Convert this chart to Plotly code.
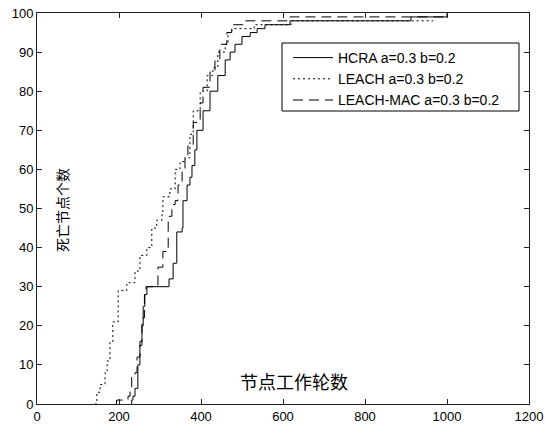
import plotly.graph_objects as go

# Rounds at which the number of dead nodes reaches each value (step curves)
hcra_x = [231, 231, 234, 239, 246, 251, 256, 259, 263, 268, 322, 332, 341, 354, 356, 366, 373, 378, 385,
          390, 405, 422, 441, 459, 471, 483, 500, 520, 537, 556, 617, 912, 1000, 1000]
hcra_y = [0, 1, 2, 4, 10, 15, 20, 25, 28, 30, 32, 36, 44, 45, 52, 56, 58, 61, 65,
          70, 75, 80, 84, 88, 90, 92, 94, 95, 96, 97, 98, 99, 99, 100]

leach_x = [141, 146, 154, 166, 171, 178, 185, 198, 219, 239, 251, 268, 280, 292, 305, 307, 324, 337, 349,
           361, 373, 381, 398, 415, 429, 441, 459, 466, 475, 500, 530, 620, 966]
leach_y = [0, 3, 5, 8, 11, 16, 21, 29, 31, 34, 38, 40, 45, 47, 49, 53, 55, 60, 62,
           63, 69, 75, 80, 84, 86, 90, 92, 95, 96, 96, 97, 98, 98]

mac_x = [194, 194, 222, 227, 231, 239, 244, 251, 256, 262, 266, 295, 307, 320, 329, 337, 344, 354, 361,
         368, 381, 398, 405, 422, 434, 446, 463, 475, 502, 617, 1000]
mac_y = [0, 1, 2, 4, 7, 8, 12, 16, 22, 28, 30, 35, 39, 48, 51, 52, 56, 60, 63,
         66, 72, 77, 81, 85, 88, 92, 95, 97, 98, 99, 99]

names = ["HCRA a=0.3 b=0.2", "LEACH a=0.3 b=0.2", "LEACH-MAC a=0.3 b=0.2"]
x_ticks = [0, 200, 400, 600, 800, 1000, 1200]
y_ticks = [0, 10, 20, 30, 40, 50, 60, 70, 80, 90, 100]

fig = go.Figure()
fig.add_trace(go.Scatter(x=hcra_x, y=hcra_y, name=names[0], mode="lines", line_shape="hv",
                         line=dict(color="black", width=1)))
fig.add_trace(go.Scatter(x=leach_x, y=leach_y, name=names[1], mode="lines", line_shape="hv",
                         line=dict(color="black", width=1, dash="2px,3px")))
fig.add_trace(go.Scatter(x=mac_x, y=mac_y, name=names[2], mode="lines", line_shape="hv",
                         line=dict(color="black", width=1, dash="10px,6px")))

axis_common = dict(showline=True, linecolor="#222", linewidth=1, mirror="ticks", ticks="inside",
                   ticklen=5, tickcolor="#222", showgrid=False, zeroline=False, automargin=False,
                   ticklabeloverflow="allow",
                   tickfont=dict(family="Liberation Sans, Arial", size=13, color="black"))

W, H = 545, 425
L, T = 37, 13
pw, ph = 492, 391
R, B = W - L - pw, H - T - ph

def px_to_paper(x, y):
    return (x - L) / pw, (T + ph - y) / ph

lx0, ly0 = px_to_paper(282, 43)
lx1, ly1 = px_to_paper(519, 111)
leg_x, leg_y = px_to_paper(288, 42)

fig.update_layout(
    width=W, height=H,
    margin=dict(l=L, r=R, t=T, b=B),
    paper_bgcolor="white", plot_bgcolor="white",
    xaxis=dict(range=[0, 1200], tickvals=x_ticks, **axis_common),
    yaxis=dict(range=[0, 100], tickvals=y_ticks, **axis_common),
    showlegend=True,
    legend=dict(x=leg_x, y=leg_y, xanchor="left", yanchor="top", bgcolor="rgba(0,0,0,0)",
                borderwidth=0,
                font=dict(family="Liberation Sans, Arial", size=14, color="black"),
                tracegroupgap=0, itemwidth=40),
    shapes=[dict(type="rect", xref="paper", yref="paper", x0=lx0, y0=ly0, x1=lx1, y1=ly1,
                 line=dict(color="black", width=1), fillcolor="white", layer="below")],
    annotations=[
        dict(text="节点工作轮数", xref="paper", yref="paper", x=px_to_paper(294, 381)[0],
             y=px_to_paper(294, 381)[1], xanchor="center", yanchor="middle",
             showarrow=False, font=dict(family="Noto Sans CJK SC", size=18, color="black")),
        dict(text="死亡节点个数", xref="paper", yref="paper", x=px_to_paper(62, 210)[0],
             y=px_to_paper(62, 210)[1], xanchor="center", yanchor="middle", textangle=-90,
             showarrow=False, font=dict(family="Noto Sans CJK SC", size=14, color="black")),
    ],
)

fig.write_html("out.html", config={"displayModeBar": False},
               post_script="document.body.style.margin='0';document.body.style.overflow='hidden';")
